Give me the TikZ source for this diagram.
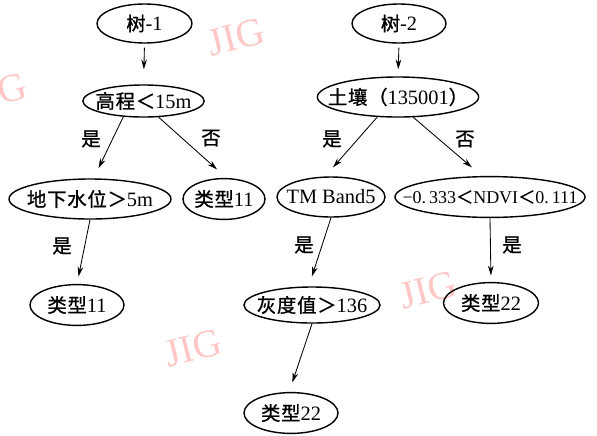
\documentclass[tikz,border=0pt]{standalone}
\usepackage{fontspec}
\setmainfont{Liberation Serif}
\newfontfamily\cjk[Scale=0.95, LetterSpace=4, FakeBold=1]{Noto Sans CJK SC}
\usetikzlibrary{arrows.meta, shapes.geometric}
\definecolor{wmpink}{RGB}{255,198,198}
\newcommand{\zh}[1]{{\cjk #1}}
\tikzset{
  tnode/.style 2 args={ellipse, draw, line width=1pt, inner xsep=-1cm, inner ysep=-0.5cm,
    minimum width=#1, minimum height=#2, font=\fontsize{14.5}{16}\selectfont},
  lbl/.style={font=\cjk\fontsize{14.5}{16}\selectfont},
  arr/.style={line width=0.6pt, -{Stealth[length=7pt,width=4pt]}},
  wm/.style={text=wmpink, font=\fontsize{28}{28}\selectfont, rotate=14, inner sep=0pt}
}

\begin{document}
\begin{tikzpicture}[x=0.025cm, y=-0.025cm]
    \useasboundingbox (0,0) rectangle (597,435);
    \node[wm] (w_1) at (236,37) {JIG};
    \node[wm] (w_2) at (-2,92) {JIG};
    \node[wm] (w_3) at (428,290) {JIG};
    \node[wm] (w_4) at (193,348) {JIG};

    \node[tnode={2.375cm}{0.975cm}] (t_1) at (144.5,23.5) {\zh{树}-1};
    \node[tnode={3.03cm}{0.8cm}] (h_1) at (143.5,101) {\zh{高程＜}15m};
    \node[tnode={4.05cm}{1cm}] (d_1) at (90,199) {\zh{地下水位＞}5m};
    \node[tnode={2.05cm}{1.02cm}] (c_1) at (224,199) {\zh{类型}11};
    \node[tnode={2.35cm}{1.02cm}] (c_2) at (77,305) {\zh{类型}11};

    \node[tnode={2.35cm}{0.975cm}] (t_2) at (399,23.5) {\zh{树}-2};
    \node[tnode={4.03cm}{1cm}] (s_2) at (398,97) {\zh{土壤（}135001\zh{）}};
    \node[tnode={2.7cm}{1cm}] (b_2) at (331,197) {TM Band5};
    \node[tnode={4.75cm}{1.02cm}, font=\fontsize{12.8}{15}\selectfont] (n_2) at (490,197) {−0.\,333\zh{＜}NDVI\zh{＜}0.\,111};
    \node[tnode={3.4cm}{0.9cm}] (g_2) at (312,305) {\zh{灰度值＞}136};
    \node[tnode={2.35cm}{1.02cm}] (c_3) at (291,413) {\zh{类型}22};
    \node[tnode={2.375cm}{1.02cm}] (c_4) at (491,303) {\zh{类型}22};

    \node[lbl] (y_1) at (91,139) {是};
    \node[lbl] (n_1) at (211,138) {否};
    \node[lbl] (y_2) at (62,246) {是};
    \node[lbl] (y_3) at (332,139) {是};
    \node[lbl] (n_3) at (465,139) {否};
    \node[lbl] (y_4) at (304,245) {是};
    \node[lbl] (y_5) at (512,245) {是};

    \draw[arr, shorten <=0.1cm, shorten >=0.375cm] (t_1.south) -- (h_1.north);
    \draw[arr, shorten >=0.28cm] (h_1.218) -- (d_1.80);
    \draw[arr, shorten >=0.32cm] (h_1.313) -- (c_1.83);
    \draw[arr, shorten >=0.19cm] (d_1.south) -- (c_2.north);
    \draw[arr, shorten <=0.1cm, shorten >=0.175cm] (t_2.south) -- (s_2.north);
    \draw[arr, shorten >=0.3cm] (s_2.224) -- (b_2.106);
    \draw[arr, shorten >=0.33cm] (s_2.307) -- (n_2.111);
    \draw[arr, shorten >=0.26cm] (b_2.south) -- (g_2.100);
    \draw[arr, shorten >=0.25cm] (g_2.south) -- (c_3.95);
    \draw[arr, shorten >=0.16cm] (n_2.south) -- (c_4.north);
\end{tikzpicture}
\end{document}
